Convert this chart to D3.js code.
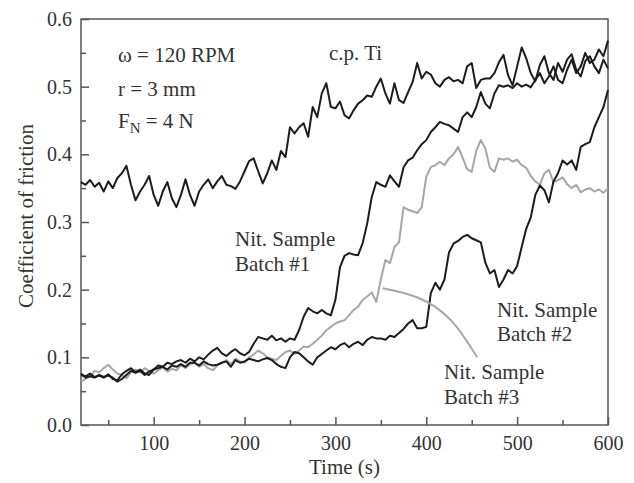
<!DOCTYPE html>
<html>
<head>
<meta charset="utf-8">
<script src="https://cdn.jsdelivr.net/npm/d3@7"></script>
<style>
body { margin: 0; background: #fff; }
text { font-family: "Liberation Serif", "Times New Roman", serif; fill: #333; }
</style>
</head>
<body>
<div id="chart-area"></div>
<script>
/*
*    friction chart
*/
// time (s), one reading every 5 s
var times = [20,25,30,35,40,45,50,55,60,65,
	70,75,80,85,90,95,100,105,110,115,
	120,125,130,135,140,145,150,155,160,165,
	170,175,180,185,190,195,200,205,210,215,
	220,225,230,235,240,245,250,255,260,265,
	270,275,280,285,290,295,300,305,310,315,
	320,325,330,335,340,345,350,355,360,365,
	370,375,380,385,390,395,400,405,410,415,
	420,425,430,435,440,445,450,455,460,465,
	470,475,480,485,490,495,500,505,510,515,
	520,525,530,535,540,545,550,555,560,565,
	570,575,580,585,590,595,600];

var cpTi = [0.359,0.355,0.362,0.352,0.358,0.345,0.360,0.350,0.365,0.372,
	0.383,0.355,0.332,0.345,0.355,0.368,0.340,0.324,0.345,0.359,
	0.335,0.322,0.340,0.363,0.340,0.324,0.345,0.355,0.363,0.350,
	0.360,0.368,0.355,0.353,0.349,0.360,0.375,0.390,0.394,0.375,
	0.357,0.372,0.391,0.377,0.405,0.396,0.440,0.431,0.440,0.446,
	0.426,0.470,0.455,0.490,0.505,0.470,0.468,0.478,0.458,0.453,
	0.465,0.475,0.480,0.487,0.485,0.500,0.512,0.490,0.475,0.505,
	0.480,0.476,0.492,0.507,0.535,0.512,0.522,0.518,0.505,0.500,
	0.510,0.514,0.508,0.510,0.505,0.530,0.535,0.498,0.510,0.512,
	0.512,0.520,0.536,0.547,0.517,0.502,0.530,0.558,0.542,0.520,
	0.508,0.532,0.545,0.520,0.510,0.535,0.522,0.540,0.548,0.525,
	0.515,0.538,0.545,0.530,0.520,0.540,0.527];

var batch1 = [0.074,0.072,0.076,0.071,0.073,0.070,0.075,0.068,0.066,0.075,
	0.080,0.084,0.078,0.082,0.076,0.074,0.082,0.088,0.086,0.092,
	0.090,0.094,0.096,0.092,0.098,0.094,0.100,0.097,0.104,0.110,
	0.114,0.106,0.102,0.108,0.112,0.106,0.103,0.108,0.120,0.130,
	0.128,0.126,0.132,0.125,0.128,0.123,0.128,0.126,0.140,0.160,
	0.173,0.168,0.165,0.170,0.165,0.162,0.185,0.233,0.250,0.254,
	0.252,0.251,0.269,0.298,0.337,0.359,0.355,0.352,0.369,0.360,
	0.352,0.381,0.391,0.395,0.406,0.415,0.421,0.433,0.440,0.448,
	0.445,0.443,0.438,0.433,0.455,0.462,0.455,0.470,0.492,0.475,
	0.468,0.490,0.502,0.500,0.502,0.498,0.505,0.500,0.503,0.499,
	0.510,0.520,0.505,0.515,0.530,0.510,0.505,0.525,0.540,0.520,
	0.530,0.550,0.535,0.540,0.555,0.545,0.568];

var batch2 = [0.076,0.070,0.072,0.070,0.074,0.071,0.073,0.070,0.064,0.068,
	0.074,0.080,0.077,0.080,0.074,0.079,0.082,0.084,0.086,0.082,
	0.088,0.086,0.090,0.086,0.092,0.092,0.088,0.094,0.090,0.088,
	0.089,0.092,0.094,0.086,0.096,0.092,0.094,0.098,0.096,0.094,
	0.097,0.099,0.096,0.090,0.086,0.084,0.100,0.108,0.106,0.100,
	0.094,0.089,0.100,0.105,0.110,0.115,0.112,0.118,0.121,0.115,
	0.120,0.123,0.118,0.126,0.130,0.128,0.128,0.126,0.132,0.130,
	0.136,0.142,0.150,0.155,0.143,0.143,0.145,0.195,0.210,0.200,
	0.215,0.255,0.268,0.272,0.278,0.281,0.276,0.273,0.270,0.240,
	0.224,0.229,0.204,0.215,0.229,0.224,0.235,0.263,0.290,0.307,
	0.340,0.354,0.347,0.329,0.360,0.372,0.391,0.385,0.391,0.377,
	0.411,0.415,0.418,0.440,0.455,0.470,0.495];

var batch3 = [0.064,0.068,0.072,0.080,0.078,0.084,0.089,0.082,0.076,0.074,
	0.069,0.078,0.082,0.078,0.084,0.080,0.076,0.081,0.085,0.079,
	0.083,0.081,0.088,0.084,0.090,0.092,0.086,0.090,0.084,0.081,
	0.088,0.092,0.096,0.090,0.098,0.094,0.092,0.100,0.104,0.110,
	0.106,0.100,0.098,0.096,0.102,0.108,0.110,0.105,0.110,0.116,
	0.115,0.120,0.126,0.132,0.140,0.145,0.150,0.153,0.155,0.162,
	0.170,0.175,0.185,0.190,0.196,0.182,0.215,0.244,0.239,0.263,
	0.270,0.322,0.318,0.316,0.313,0.322,0.367,0.381,0.384,0.389,
	0.384,0.394,0.400,0.411,0.395,0.378,0.374,0.405,0.421,0.409,
	0.380,0.374,0.394,0.392,0.394,0.389,0.392,0.384,0.380,0.368,
	0.360,0.355,0.372,0.377,0.359,0.362,0.366,0.356,0.350,0.355,
	0.344,0.348,0.350,0.345,0.348,0.343,0.350];

var xTicks = [100, 200, 300, 400, 500, 600];
var xMinor = [50, 150, 250, 350, 450, 550];
var yTicks = [0.0, 0.1, 0.2, 0.3, 0.4, 0.5, 0.6];
var yMinor = [0.05, 0.15, 0.25, 0.35, 0.45, 0.55];

// pointer arc from label "Batch #3" to the gray curve, in data units
var arcT = [352, 391, 427, 456];
var arcV = [0.202, 0.188, 0.155, 0.100];

var margin = {left: 81, top: 19, right: 26, bottom: 58};
var width = 634 - margin.left - margin.right;
var height = 483 - margin.top - margin.bottom;

var svg = d3.select("#chart-area").append("svg")
		.attr("width", 634)
		.attr("height", 483);
var g = svg.append("g")
		.attr("transform", "translate(" + margin.left + "," + margin.top + ")");

var x = d3.scaleLinear().domain([20, 600]).range([0, width]);
var y = d3.scaleLinear().domain([0, 0.6]).range([height, 0]);

// axes, ticks pointing inward
var xAxis = g.append("g")
		.attr("transform", "translate(0," + height + ")")
		.call(d3.axisBottom(x).tickValues(xTicks).tickSize(-8).tickPadding(11).tickFormat(d3.format("d")));
var xAxisMinor = g.append("g")
		.attr("transform", "translate(0," + height + ")")
		.call(d3.axisBottom(x).tickValues(xMinor).tickSize(-5).tickFormat(""));
var yAxis = g.append("g")
		.call(d3.axisLeft(y).tickValues(yTicks).tickSize(-8).tickPadding(9).tickFormat(d3.format(".1f")));
var yAxisMinor = g.append("g")
		.call(d3.axisLeft(y).tickValues(yMinor).tickSize(-5).tickFormat(""));

g.selectAll(".domain").remove();
g.selectAll(".tick line").attr("stroke", "#555").attr("stroke-width", 1.5);
g.selectAll(".tick text")
		.attr("font-size", 20)
		.attr("fill", "#333");

g.append("rect")
		.attr("x", 0)
		.attr("y", 0)
		.attr("width", width)
		.attr("height", height)
		.attr("fill", "none")
		.attr("stroke", "#555")
		.attr("stroke-width", 1.5);

// curves
var line = d3.line()
		.x((d, i) => x(times[i]))
		.y((d) => y(d));

var series = [
	{values: batch3, color: "#a6a6a6"},
	{values: cpTi, color: "#1c1c1c"},
	{values: batch1, color: "#1c1c1c"},
	{values: batch2, color: "#1c1c1c"}
];
g.selectAll("path.series")
	.data(series)
	.enter()
	.append("path")
		.attr("class", "series")
		.attr("d", (d) => line(d.values))
		.attr("fill", "none")
		.attr("stroke", (d) => d.color)
		.attr("stroke-width", 2)
		.attr("stroke-linejoin", "round");

var arcLine = d3.line()
		.x((d, i) => x(arcT[i]))
		.y((d) => y(d))
		.curve(d3.curveNatural);
g.append("path")
		.attr("d", arcLine(arcV))
		.attr("fill", "none")
		.attr("stroke", "#a6a6a6")
		.attr("stroke-width", 2);

// axis titles
svg.append("text")
		.attr("x", margin.left + width / 2)
		.attr("y", 474)
		.attr("text-anchor", "middle")
		.attr("font-size", 21)
		.text("Time (s)");
svg.append("text")
		.attr("transform", "translate(33," + (margin.top + height / 2 - 6) + ") rotate(-90)")
		.attr("text-anchor", "middle")
		.attr("font-size", 21)
		.text("Coefficient of friction");

// annotations
var notes = [
	{text: "ω = 120 RPM", x: 118, y: 62},
	{text: "r = 3 mm", x: 118, y: 96},
	{text: "c.p. Ti", x: 329, y: 60},
	{text: "Nit. Sample", x: 235, y: 246},
	{text: "Batch #1", x: 235, y: 271},
	{text: "Nit. Sample", x: 497, y: 317},
	{text: "Batch #2", x: 497, y: 341},
	{text: "Nit. Sample", x: 444, y: 379},
	{text: "Batch #3", x: 444, y: 404}
];
svg.selectAll("text.note")
	.data(notes)
	.enter()
	.append("text")
		.attr("class", "note")
		.attr("x", (d) => d.x)
		.attr("y", (d) => d.y)
		.attr("font-size", 21)
		.text((d) => d.text);

var fn = svg.append("text")
		.attr("x", 118)
		.attr("y", 128)
		.attr("font-size", 21);
fn.append("tspan").text("F");
fn.append("tspan").attr("font-size", 15).attr("dy", 5).text("N");
fn.append("tspan").attr("dy", -5).text(" = 4 N");
</script>
</body>
</html>
